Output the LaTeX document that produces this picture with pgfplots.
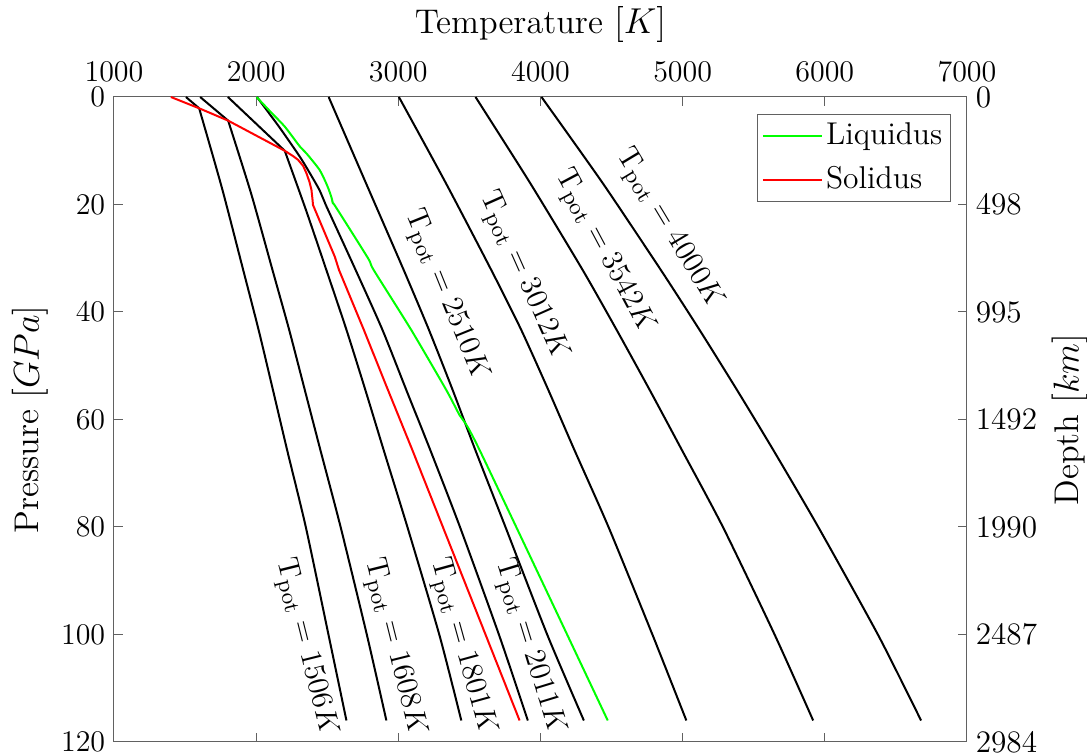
\documentclass[border=0pt]{standalone}
\usepackage{pgfplots}
\pgfplotsset{compat=1.18}
\definecolor{liq}{rgb}{0,1,0}
\definecolor{sol}{rgb}{1,0,0}
\definecolor{axgray}{rgb}{0.38,0.38,0.38}
\begin{document}
\begin{tikzpicture}
\pgfplotsset{every axis/.append style={
  scale only axis, width=341.2pt, height=258pt,
  xmin=1000, xmax=7000, ymin=0, ymax=120, y dir=reverse,
  tick align=inside, major tick length=3.6pt,
  tick style={axgray, line width=0.4pt},
  axis line style={axgray, line width=0.4pt},
  tick label style={font=\fontsize{12.5}{14}\selectfont},
  label style={font=\fontsize{13.7}{16}\selectfont},
  ytick={0,20,...,120}
}}
\begin{axis}[
  xtick={1000,2000,...,7000},
  xticklabel pos=upper, xtick pos=both, ytick pos=left,
  x tick label style={/pgf/number format/1000 sep={}, yshift=2.5pt},
  xlabel={Temperature $[K]$},
  xlabel style={at={(axis description cs:0.5,1.0985)}, anchor=base},
  ylabel={Pressure $[GPa]$},
  ylabel style={at={(axis description cs:-0.0985,0.5)}, anchor=center},
  legend cell align=left,
  legend style={at={(axis description cs:0.981,0.974)}, anchor=north east,
    draw=axgray, font=\fontsize{12.6}{14}\selectfont, inner xsep=1.8pt, inner ysep=1.5pt,
    row sep=3.2pt, nodes={inner xsep=1.4pt, inner ysep=2pt}},
  legend image code/.code={\draw[#1] (0pt,0pt) -- (23.5pt,0pt);},
  black curve/.style={black, line width=0.8pt, forget plot},
]
% ---- adiabats ----
% 1506 K
\addplot[black curve] table {
T P
1506 0
1599 2.1
};
\addplot[black curve, smooth, tension=0.4] table {
T P
1599 2.1
1760 17
1909 32.2
2017 43.3
2118 54.5
2218 65.7
2350 80.1
2510 100.2
2635 116
};
% 1608 K
\addplot[black curve] table {
T P
1606 0
1803 4.4
};
\addplot[black curve, smooth, tension=0.4] table {
T P
1803 4.4
1965 18
2115 32.2
2232 43.3
2342 54.5
2452 65.7
2595 80.1
2780 100.2
2916 116
};
% 1801 K
\addplot[black curve] table {
T P
1801 0
2201 10
};
\addplot[black curve, smooth, tension=0.4] table {
T P
2201 10
2350 21
2494 32.2
2635 43.3
2768 54.5
2897 65.7
3065 80.1
3290 100.2
3443 116
};
% 2011 K
\addplot[black curve, smooth, tension=0.4] table {
T P
2005 0
2160 5.5
2307 11.1
2385 14.5
2445 17.3
2490 20.1
};
\addplot[black curve, smooth, tension=0.4] table {
T P
2490 20.1
2700 32.2
2888 43.3
3056 54.5
3225 65.7
3435 80.1
3710 100.2
3911 116
};
% 2510 K
\addplot[black curve, smooth, tension=0.4] table {
T P
2510 0
2772 16
3038 32.2
3215 43.3
3382 54.5
3542 65.7
3755 80.1
4050 100.2
4305 116
};
% 3012 K
\addplot[black curve, smooth, tension=0.4] table {
T P
3004 0
3334 16
3654 32.2
3864 43.3
4055 54.5
4239 65.7
4480 80.1
4790 100.2
5026 116
};
% 3542 K
\addplot[black curve, smooth, tension=0.4] table {
T P
3543 0
3927 16
4297 32.2
4535 43.3
4768 54.5
4995 65.7
5285 80.1
5650 100.2
5918 116
};
% 4000 K
\addplot[black curve, smooth, tension=0.4] table {
T P
4007 0
4437 16
4847 32.2
5118 43.3
5382 54.5
5638 65.7
5956 80.1
6377 100.2
6677 116
};
% ---- liquidus ----
\addplot[liq, line width=0.8pt, smooth, tension=0.4] table {
T P
2003 0
2110 3
2201 5.5
2307 9.2
2354 10.5
2447 13.6
2500 16.5
2530 18.7
2541 19.9
2556 20.3
2787 30
2827 32.2
3090 43.3
3337 54.5
3431 59.2
3572 65.7
4473 116
};
\addlegendentry{Liquidus}
% ---- solidus ----
\addplot[sol, line width=0.8pt] table {
T P
1400 0
1599 2.1
1803 4.4
2201 10
2260 11
2295 11.7
2330 12.8
2354 14.2
2375 15.8
2389 17.3
2396 19
2400 20.1
2435 22.3
2553 29.7
2583 32.2
2757 43.3
2927 54.5
3099 65.7
3853 116
};
\addlegendentry{Solidus}
% ---- curve labels ----
\tikzset{lab/.style={font=\fontsize{12.3}{14}\selectfont, inner sep=0pt}}
\node[lab, rotate=-68] at (axis cs:3329,36.9) {$\mathrm{T}_{\mathrm{pot}} = 2510K$};
\node[lab, rotate=-66] at (axis cs:3874,33.3) {$\mathrm{T}_{\mathrm{pot}} = 3012K$};
\node[lab, rotate=-62] at (axis cs:4443,28.8) {$\mathrm{T}_{\mathrm{pot}} = 3542K$};
\node[lab, rotate=-59] at (axis cs:4899,24.6) {$\mathrm{T}_{\mathrm{pot}} = 4000K$};
\node[lab, rotate=-76] at (axis cs:2342,102.3) {$\mathrm{T}_{\mathrm{pot}} = 1506K$};
\node[lab, rotate=-76] at (axis cs:2967,102.3) {$\mathrm{T}_{\mathrm{pot}} = 1608K$};
\node[lab, rotate=-74.5] at (axis cs:3445,102.3) {$\mathrm{T}_{\mathrm{pot}} = 1801K$};
\node[lab, rotate=-73] at (axis cs:3916,102.3) {$\mathrm{T}_{\mathrm{pot}} = 2011K$};
\end{axis}
\begin{axis}[
  axis x line=none, axis y line*=right,
  ytick pos=right, yticklabel pos=right,
  yticklabels={0,498,995,1492,1990,2487,2984},
  ylabel={Depth $[km]$},
  ylabel style={at={(axis description cs:1.1202,0.5)}, anchor=center},
]
\addplot[draw=none] coordinates {(1000,0)};
\end{axis}
\pgfresetboundingbox
\path[use as bounding box] (-45.6pt,-5.2pt) rectangle (389.2pt,296.8pt);
\end{tikzpicture}
\end{document}
